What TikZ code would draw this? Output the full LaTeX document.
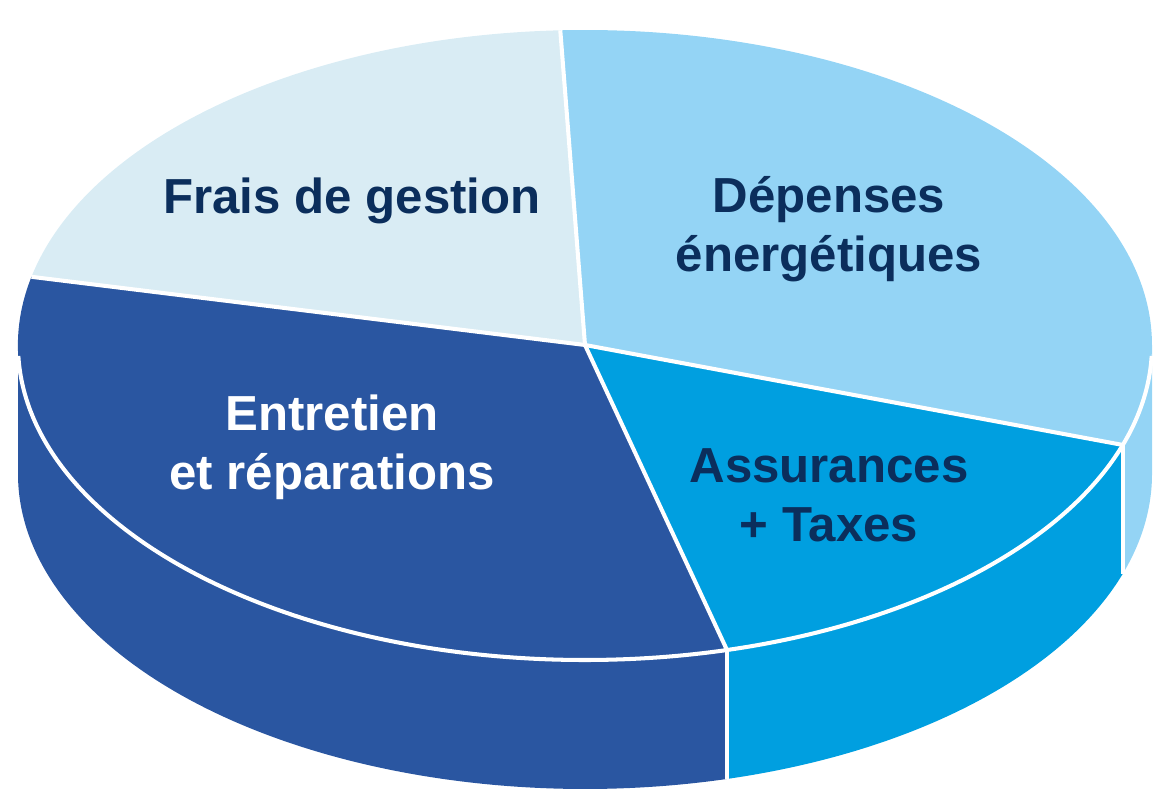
\documentclass[tikz,border=0pt]{standalone}
\usepackage{fontspec}
\setmainfont{Liberation Sans}
\usetikzlibrary{calc}
\definecolor{fraisc}{RGB}{217,236,244}
\definecolor{depc}{RGB}{148,212,245}
\definecolor{assc}{RGB}{0,159,224}
\definecolor{entc}{RGB}{42,86,161}
\definecolor{navy}{RGB}{11,46,92}
\begin{document}
\begin{tikzpicture}[x=0.02cm,y=0.02cm,
  sep/.style={draw=white,line width=2.3pt,line join=round},
  lbl/.style={font=\fontsize{28}{33.6}\selectfont\bfseries,text=navy,align=center,inner sep=0pt},
  ell/.style={x radius=567,y radius=315}]
\useasboundingbox (0,0) rectangle (1170,811);
\coordinate (C) at (585,466);
% ---- sides (front) ----
\fill[entc] ($(C)+(180:567 and 315)$) arc[start angle=180,end angle=284.5,ell] -- ++(0,-129) arc[start angle=284.5,end angle=180,ell] -- cycle;
\fill[assc] ($(C)+(284.5:567 and 315)$) arc[start angle=284.5,end angle=341.5,ell] -- ++(0,-129) arc[start angle=341.5,end angle=284.5,ell] -- cycle;
\fill[depc] ($(C)+(341.5:567 and 315)$) arc[start angle=341.5,end angle=360,ell] -- ++(0,-129) arc[start angle=360,end angle=341.5,ell] -- cycle;
% ---- top slices ----
\coordinate (pT) at ($(C)+(92.5:567 and 315)$);
\coordinate (pL) at ($(C)+(167.5:567 and 315)$);
\coordinate (pB) at ($(C)+(284.5:567 and 315)$);
\coordinate (pR) at ($(C)+(341.5:567 and 315)$);
\fill[fraisc] (C) -- (pT) arc[start angle=92.5,end angle=167.5,ell] -- cycle;
\fill[entc] (C) -- (pL) arc[start angle=167.5,end angle=284.5,ell] -- cycle;
\fill[assc] (C) -- (pB) arc[start angle=284.5,end angle=341.5,ell] -- cycle;
\fill[depc] (C) -- (pR) arc[start angle=341.5,end angle=452.5,ell] -- cycle;
% ---- white separators ----
\draw[sep] ($(C)+(182:567 and 315)$) arc[start angle=182,end angle=358,ell];
\draw[sep] (pB) -- ++(0,-129);
\draw[sep] (pR) -- ++(0,-129);
\draw[sep] (C) -- (pT);
\draw[sep] (C) -- (pL);
\draw[sep] (C) -- (pB);
\draw[sep] (C) -- (pR);
% ---- labels (base = baseline of last line) ----
\node[lbl,anchor=base] (frais) at (352,597) {Frais de gestion};
\node[lbl,anchor=base] (dep) at (829,539) {Dépenses\\énergétiques};
\node[lbl,anchor=base,text=white] (ent) at (332,321) {Entretien\\et réparations};
\node[lbl,anchor=base] (ass) at (829,269) {Assurances\\+ Taxes};
\end{tikzpicture}
\end{document}
